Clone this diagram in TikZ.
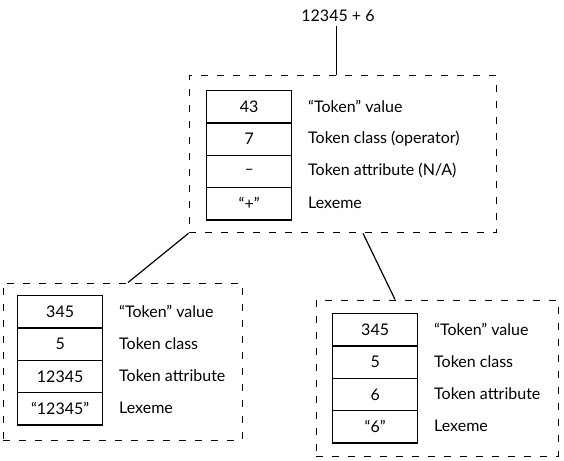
\documentclass[tikz,border=0pt]{standalone}
\usepackage{fontspec}
\setmainfont{Lato}
\usetikzlibrary{calc}
\tikzset{
  txt/.style={font=\fontsize{16}{18}\selectfont},
  cell/.style={txt, draw, line width=1.3pt, minimum width=85pt, minimum height=32.3pt, inner sep=0pt, anchor=north west},
  lab/.style={txt, anchor=west, inner sep=0pt},
  dbox/.style={draw, line width=1pt, dash pattern=on 7pt off 9pt, inner sep=0pt},
  conn/.style={line width=1.2pt},
}
\begin{document}
\begin{tikzpicture}[x=1pt,y=1pt]
\useasboundingbox (0,0) rectangle (564,-460);
% title
\node[txt, inner sep=0pt] (title) at (338,-16) {12345 + 6};
% dashed boxes
\node[dbox, minimum width=307pt, minimum height=157pt] (topbox) at (342.5,-154.3) {};
\node[dbox, minimum width=239pt, minimum height=157pt] (leftbox) at (122.5,-361.5) {};
\node[dbox, minimum width=242pt, minimum height=156pt] (rightbox) at (437,-378) {};
% top table
\node[cell] (t1) at (206,-90) {43};
\node[cell] (t2) at (206,-122.3) {7};
\node[cell] (t3) at (206,-154.6) {–};
\node[cell] (t4) at (206,-186.9) {“+”};
\node[lab] (tl1) at (308,-106.2) {“Token” value};
\node[lab] (tl2) at (308,-138.5) {Token class (operator)};
\node[lab] (tl3) at (308,-170.8) {Token attribute (N/A)};
\node[lab] (tl4) at (308,-203.1) {Lexeme};
% left table
\node[cell] (l1) at (17,-295) {345};
\node[cell] (l2) at (17,-327.3) {5};
\node[cell] (l3) at (17,-359.6) {12345};
\node[cell] (l4) at (17,-391.9) {“12345”};
\node[lab] (ll1) at (119,-311.2) {“Token” value};
\node[lab] (ll2) at (119,-343.5) {Token class};
\node[lab] (ll3) at (119,-375.8) {Token attribute};
\node[lab] (ll4) at (119,-408.1) {Lexeme};
% right table
\node[cell] (r1) at (332,-313) {345};
\node[cell] (r2) at (332,-345.3) {5};
\node[cell] (r3) at (332,-377.6) {6};
\node[cell] (r4) at (332,-409.9) {“6”};
\node[lab] (rl1) at (434,-329.2) {“Token” value};
\node[lab] (rl2) at (434,-361.5) {Token class};
\node[lab] (rl3) at (434,-393.8) {Token attribute};
\node[lab] (rl4) at (434,-426.1) {Lexeme};
% connectors
\draw[conn] ([xshift=-1.3pt,yshift=-4pt]title.south) -- ([xshift=-5.8pt]topbox.north);
\draw[conn] (topbox.south west) -- ([xshift=5.5pt]leftbox.north);
\draw[conn] ([xshift=20.5pt]topbox.south) -- ([xshift=-42pt]rightbox.north);
\end{tikzpicture}
\end{document}
